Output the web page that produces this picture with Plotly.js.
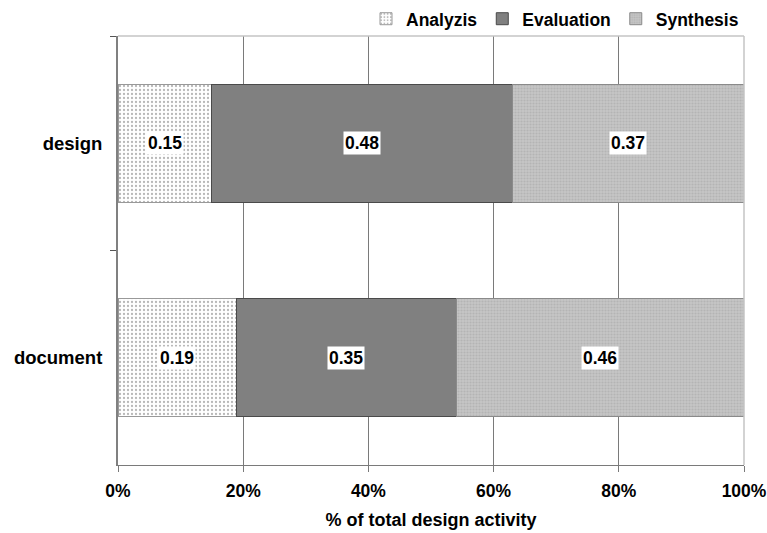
<!DOCTYPE html>
<html>
<head>
<meta charset="utf-8">
<script src="https://cdn.plot.ly/plotly-3.0.1.min.js"></script>
<style>
  html, body { margin: 0; padding: 0; background: #fff; }
  #chart { width: 767px; height: 533px; }
</style>
</head>
<body>
<div id="chart"></div>
<script>
// Share of total design activity per document type
const categories = ['design', 'document'];
const seriesNames = ['Analyzis', 'Evaluation', 'Synthesis'];
const analyzis = [0.15, 0.19];
const evaluation = [0.48, 0.35];
const synthesis = [0.37, 0.46];
const xTickValues = [0, 0.2, 0.4, 0.6, 0.8, 1.0];
const xTickLabels = ['0%', '20%', '40%', '60%', '80%', '100%'];

const FONT = '"Liberation Sans", Arial, sans-serif';
const seriesValues = [analyzis, evaluation, synthesis];
const boldFont = size => ({ family: FONT, size: size, color: '#000', weight: 'bold' });

const styles = [
  { color: '#ffffff', line: '#999999',
    pattern: { shape: '.', bgcolor: '#ffffff', fgcolor: '#b8b8b8', size: 4, solidity: 0.25 } },
  { color: '#808080', line: '#4a4a4a', pattern: null },
  { color: '#c2c2c2', line: '#8a8a8a',
    pattern: { shape: '.', bgcolor: '#c6c6c6', fgcolor: '#b4b4b4', size: 3, solidity: 0.4 } }
];

const traces = seriesNames.map((name, i) => {
  const marker = { color: styles[i].color, line: { color: styles[i].line, width: 1 } };
  if (styles[i].pattern) marker.pattern = styles[i].pattern;
  return {
    type: 'bar',
    orientation: 'h',
    name: name,
    x: seriesValues[i],
    y: categories,
    width: 0.55,
    marker: marker,
    hoverinfo: 'x+name'
  };
});

// value labels centred in each segment, on a white box
const annotations = [];
categories.forEach((cat, c) => {
  let start = 0;
  seriesValues.forEach(vals => {
    const v = vals[c];
    annotations.push({
      x: start + v / 2, y: cat, xref: 'x', yref: 'y',
      text: v.toFixed(2), showarrow: false,
      bgcolor: '#ffffff', borderpad: 1,
      font: boldFont(17.5)
    });
    start += v;
  });
});

const layout = {
  width: 767, height: 533,
  margin: { l: 118, r: 23, t: 36, b: 68, autoexpand: false },
  paper_bgcolor: '#ffffff', plot_bgcolor: '#ffffff',
  barmode: 'stack',
  font: boldFont(17),
  showlegend: true,
  legend: {
    orientation: 'h', x: 1.0, xanchor: 'right', y: 1.04, yanchor: 'middle',
    font: boldFont(17.5),
    traceorder: 'normal', itemwidth: 30, bgcolor: 'rgba(0,0,0,0)'
  },
  xaxis: {
    range: [0, 1], tickvals: xTickValues, ticktext: xTickLabels,
    showgrid: true, gridcolor: '#7a7a7a', gridwidth: 1,
    zeroline: false, showline: true, linecolor: '#7a7a7a', linewidth: 1,
    ticks: 'outside', ticklen: 6, tickcolor: '#7a7a7a',
    tickfont: boldFont(17.5),
    ticklabelstandoff: 4,
    title: { text: '% of total design activity', standoff: 13, font: boldFont(18) }
  },
  yaxis: {
    type: 'category', autorange: 'reversed', range: [1.5, -0.5],
    tickson: 'boundaries', showgrid: false, zeroline: false,
    showline: true, linecolor: '#808080', linewidth: 2,
    ticks: 'outside', ticklen: 6, tickcolor: '#555',
    tickfont: boldFont(18.5),
    ticklabelstandoff: 10
  },
  shapes: [
    { type: 'line', xref: 'paper', yref: 'paper', x0: 0, x1: 1, y0: 1, y1: 1,
      line: { color: '#c4c4c4', width: 1.5 }, layer: 'above' },
    { type: 'line', xref: 'paper', yref: 'paper', x0: 1, x1: 1, y0: 0, y1: 1,
      line: { color: '#c4c4c4', width: 1.5 }, layer: 'above' }
  ],
  annotations: annotations
};

Plotly.newPlot('chart', traces, layout, { displayModeBar: false, staticPlot: true });
</script>
</body>
</html>
